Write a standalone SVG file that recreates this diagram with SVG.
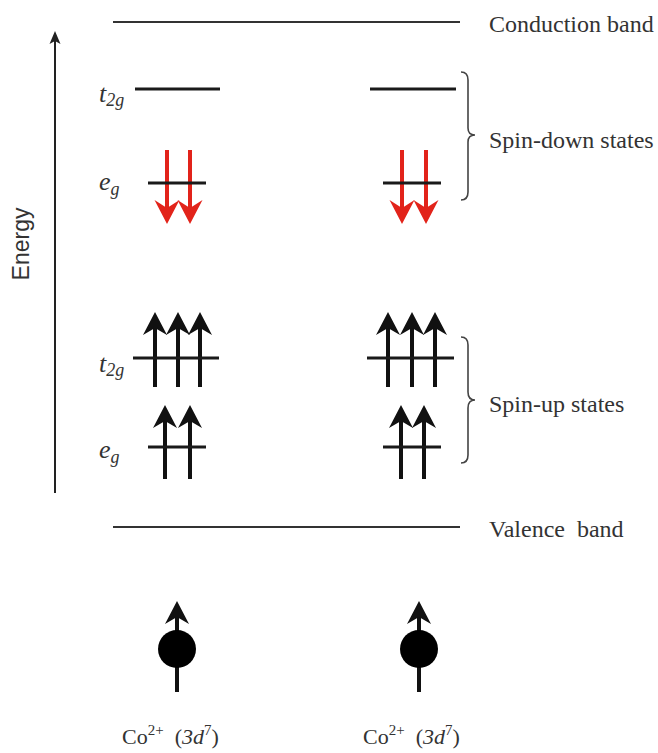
<svg xmlns="http://www.w3.org/2000/svg" width="658" height="753" viewBox="0 0 658 753">
  <style>
    .band { stroke: #333; stroke-width: 2; fill: none; }
    .level { stroke: #1a1a1a; stroke-width: 3; fill: none; }
    .shaft { stroke: #111; stroke-width: 4; fill: none; }
    .shaft-red { stroke: #e2231a; stroke-width: 4; fill: none; }
    .head { fill: #111; }
    .head-red { fill: #e2231a; }
    .brace { stroke: #444; stroke-width: 1.6; fill: none; }
    .lbl { font-family: "Liberation Serif", "Times New Roman", serif; font-size: 24px; fill: #333; }
    .orb { font-family: "Liberation Serif", "Times New Roman", serif; font-style: italic; font-size: 26px; fill: #333; }
    .ion { font-family: "Liberation Serif", "Times New Roman", serif; font-size: 22px; fill: #333; }
  </style>
  <defs>
    <path id="upHead" d="M0,0 L-12,23 L0,16 L12,23 Z"/>
    <path id="downHead" d="M0,0 L-12.5,-24 L0,-16 L12.5,-24 Z"/>
  </defs>
  <rect width="658" height="753" fill="#fff"/>

  <!-- energy axis -->
  <g id="energy-axis">
    <line x1="55" y1="493" x2="55" y2="40" stroke="#222" stroke-width="2"/>
    <path d="M55,31 L49.5,44 L55,41 L60.5,44 Z" fill="#222"/>
    <text transform="translate(29,244) rotate(-90)" text-anchor="middle" font-family="Liberation Sans, Arial, sans-serif" font-size="23" fill="#333">Energy</text>
  </g>

  <!-- bands -->
  <g id="conduction-band">
    <line class="band" x1="113" y1="22" x2="460" y2="22"/>
    <text class="lbl" x="489" y="32">Conduction band</text>
  </g>
  <g id="valence-band">
    <line class="band" x1="113" y1="527" x2="460" y2="527"/>
    <text class="lbl" x="489" y="537">Valence&#160; band</text>
  </g>

  <!-- orbital labels -->
  <g id="orbital-labels">
    <text class="orb" x="99" y="102">t<tspan font-size="18" dy="4">2g</tspan></text>
    <text class="orb" x="99" y="190">e<tspan font-size="18" dy="5">g</tspan></text>
    <text class="orb" x="99" y="372">t<tspan font-size="18" dy="4">2g</tspan></text>
    <text class="orb" x="99" y="458">e<tspan font-size="18" dy="5">g</tspan></text>
  </g>

  <!-- left ion: spin-down levels -->
  <g id="left-t2g-down">
    <line class="level" x1="135" y1="89" x2="220" y2="89"/>
  </g>
  <g id="left-eg-down">
    <line class="shaft-red" x1="167" y1="150" x2="167" y2="212"/>
    <line class="shaft-red" x1="190" y1="150" x2="190" y2="212"/>
    <use href="#downHead" class="head-red" x="167" y="224"/>
    <use href="#downHead" class="head-red" x="190" y="224"/>
    <line class="level" x1="148" y1="183" x2="206" y2="183"/>
  </g>

  <!-- right ion: spin-down levels -->
  <g id="right-t2g-down">
    <line class="level" x1="370" y1="89" x2="456" y2="89"/>
  </g>
  <g id="right-eg-down">
    <line class="shaft-red" x1="402" y1="150" x2="402" y2="212"/>
    <line class="shaft-red" x1="426" y1="150" x2="426" y2="212"/>
    <use href="#downHead" class="head-red" x="402" y="224"/>
    <use href="#downHead" class="head-red" x="426" y="224"/>
    <line class="level" x1="383" y1="183" x2="441" y2="183"/>
  </g>

  <!-- left ion: spin-up levels -->
  <g id="left-t2g-up">
    <line class="shaft" x1="155" y1="387" x2="155" y2="322"/>
    <line class="shaft" x1="178" y1="387" x2="178" y2="322"/>
    <line class="shaft" x1="200" y1="387" x2="200" y2="322"/>
    <use href="#upHead" class="head" x="155" y="312"/>
    <use href="#upHead" class="head" x="178" y="312"/>
    <use href="#upHead" class="head" x="200" y="312"/>
    <line class="level" x1="133" y1="358" x2="219" y2="358"/>
  </g>
  <g id="left-eg-up">
    <line class="shaft" x1="165" y1="479" x2="165" y2="415"/>
    <line class="shaft" x1="190" y1="479" x2="190" y2="415"/>
    <use href="#upHead" class="head" x="165" y="405"/>
    <use href="#upHead" class="head" x="190" y="405"/>
    <line class="level" x1="148" y1="447" x2="206" y2="447"/>
  </g>

  <!-- right ion: spin-up levels -->
  <g id="right-t2g-up">
    <line class="shaft" x1="388" y1="387" x2="388" y2="322"/>
    <line class="shaft" x1="412" y1="387" x2="412" y2="322"/>
    <line class="shaft" x1="435" y1="387" x2="435" y2="322"/>
    <use href="#upHead" class="head" x="388" y="312"/>
    <use href="#upHead" class="head" x="412" y="312"/>
    <use href="#upHead" class="head" x="435" y="312"/>
    <line class="level" x1="367" y1="358" x2="454" y2="358"/>
  </g>
  <g id="right-eg-up">
    <line class="shaft" x1="401" y1="479" x2="401" y2="415"/>
    <line class="shaft" x1="424" y1="479" x2="424" y2="415"/>
    <use href="#upHead" class="head" x="401" y="405"/>
    <use href="#upHead" class="head" x="424" y="405"/>
    <line class="level" x1="383" y1="447" x2="441" y2="447"/>
  </g>

  <!-- braces -->
  <g id="spin-down-brace">
    <path class="brace" d="M461,72 Q468,72 468,80 L468,128 Q468,135 475,135 Q468,135 468,142 L468,192 Q468,200 461,200"/>
    <text class="lbl" x="489" y="148">Spin-down states</text>
  </g>
  <g id="spin-up-brace">
    <path class="brace" d="M461,337 Q468,337 468,345 L468,392 Q468,400 475,400 Q468,400 468,408 L468,455 Q468,463 461,463"/>
    <text class="lbl" x="489" y="412">Spin-up states</text>
  </g>

  <!-- ion spins -->
  <g id="left-ion">
    <line class="shaft" x1="177" y1="692" x2="177" y2="612"/>
    <use href="#upHead" class="head" x="177" y="601"/>
    <circle cx="177" cy="649" r="19" fill="#000"/>
    <text class="ion" x="122" y="744">Co<tspan font-size="15" dy="-9">2+</tspan><tspan dy="9">&#160;&#160;(</tspan><tspan font-style="italic">3d</tspan><tspan font-size="15" dy="-9">7</tspan><tspan dy="9">)</tspan></text>
  </g>
  <g id="right-ion">
    <line class="shaft" x1="419" y1="692" x2="419" y2="612"/>
    <use href="#upHead" class="head" x="419" y="601"/>
    <circle cx="419" cy="649" r="19" fill="#000"/>
    <text class="ion" x="363" y="744">Co<tspan font-size="15" dy="-9">2+</tspan><tspan dy="9">&#160;&#160;(</tspan><tspan font-style="italic">3d</tspan><tspan font-size="15" dy="-9">7</tspan><tspan dy="9">)</tspan></text>
  </g>
</svg>
